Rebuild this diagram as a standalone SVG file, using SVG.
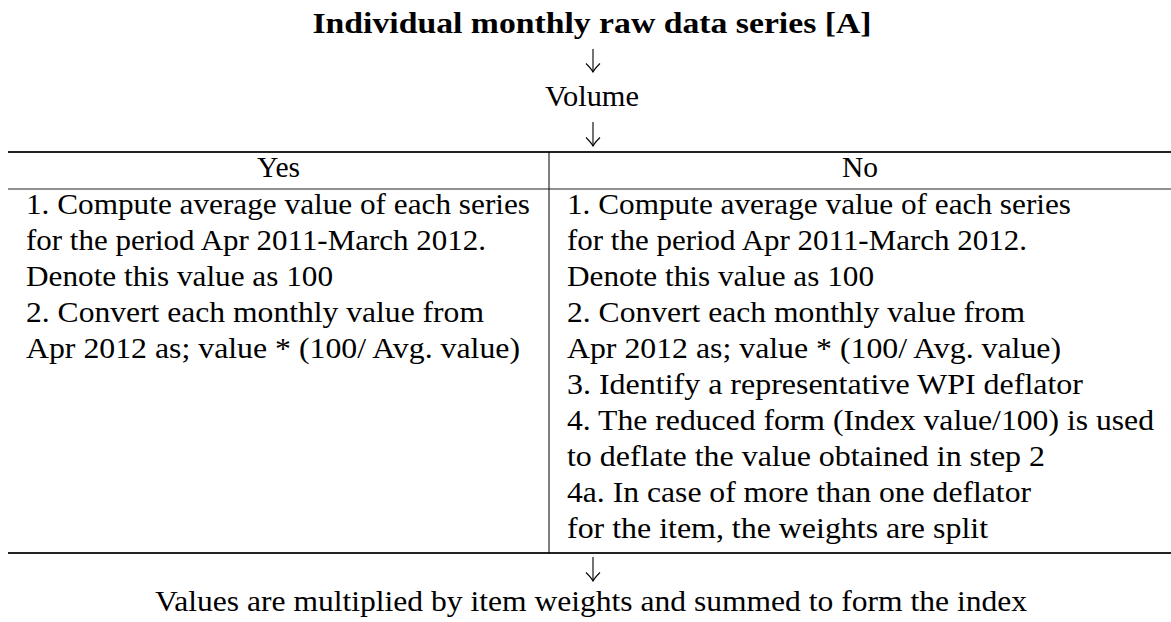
<svg xmlns="http://www.w3.org/2000/svg" width="1171" height="622" viewBox="0 0 1171 622">
<style>
  .c { text-anchor: middle; }
  .rule { stroke: #222; stroke-width: 1.8; fill: none; }
  .mid { stroke: #222; stroke-width: 1.2; fill: none; }
  .vline { stroke: #000; stroke-width: 1; fill: none; }
  .arrow { stroke: #000; stroke-width: 1.1; fill: none; marker-end: url(#head); }
</style>
<defs>
  <marker id="head" markerUnits="userSpaceOnUse" viewBox="-10 -9 12 18" refX="0" refY="0" markerWidth="12" markerHeight="18" orient="auto" overflow="visible">
    <path d="M -8.5 -7 Q -3 -1.5 0 0 Q -3 1.5 -8.5 7" stroke="#000" stroke-width="1.1" fill="none"/>
  </marker>
</defs>
<rect width="1171" height="622" fill="#fff"/>

<g id="table-rules">
  <line class="rule" x1="8" y1="152" x2="1171" y2="152"/>
  <line class="mid" x1="8" y1="189" x2="1171" y2="189"/>
  <line class="rule" x1="8" y1="553" x2="1171" y2="553"/>
  <line class="vline" x1="549" y1="152" x2="549" y2="553"/>
</g>

<g font-family="Liberation Serif" font-size="30" fill="#000">
<g id="title">
  <text class="c" x="592" y="33" font-weight="bold" font-size="29" textLength="559" lengthAdjust="spacingAndGlyphs">Individual monthly raw data series [A]</text>
</g>
<g id="volume">
  <text class="c" x="592" y="106" textLength="94" lengthAdjust="spacingAndGlyphs">Volume</text>
</g>

<g id="header-yes">
  <text class="c" x="278.5" y="177" textLength="43" lengthAdjust="spacingAndGlyphs">Yes</text>
</g>
<g id="header-no">
  <text class="c" x="860" y="177" textLength="36" lengthAdjust="spacingAndGlyphs">No</text>
</g>

<g id="cell-yes">
  <text x="26" y="214" textLength="504" lengthAdjust="spacingAndGlyphs">1. Compute average value of each series</text>
  <text x="26" y="250" textLength="460" lengthAdjust="spacingAndGlyphs">for the period Apr 2011-March 2012.</text>
  <text x="26" y="286" textLength="307" lengthAdjust="spacingAndGlyphs">Denote this value as 100</text>
  <text x="26" y="322" textLength="458" lengthAdjust="spacingAndGlyphs">2. Convert each monthly value from</text>
  <text x="26" y="358" textLength="494" lengthAdjust="spacingAndGlyphs">Apr 2012 as; value * (100/ Avg. value)</text>
</g>

<g id="cell-no">
  <text x="567" y="214" textLength="504" lengthAdjust="spacingAndGlyphs">1. Compute average value of each series</text>
  <text x="567" y="250" textLength="460" lengthAdjust="spacingAndGlyphs">for the period Apr 2011-March 2012.</text>
  <text x="567" y="286" textLength="307" lengthAdjust="spacingAndGlyphs">Denote this value as 100</text>
  <text x="567" y="322" textLength="458" lengthAdjust="spacingAndGlyphs">2. Convert each monthly value from</text>
  <text x="567" y="358" textLength="494" lengthAdjust="spacingAndGlyphs">Apr 2012 as; value * (100/ Avg. value)</text>
  <text x="567" y="394" textLength="516" lengthAdjust="spacingAndGlyphs">3. Identify a representative WPI deflator</text>
  <text x="567" y="430" textLength="587" lengthAdjust="spacingAndGlyphs">4. The reduced form (Index value/100) is used</text>
  <text x="567" y="466" textLength="478" lengthAdjust="spacingAndGlyphs">to deflate the value obtained in step 2</text>
  <text x="567" y="502" textLength="464" lengthAdjust="spacingAndGlyphs">4a. In case of more than one deflator</text>
  <text x="567" y="538" textLength="421" lengthAdjust="spacingAndGlyphs">for the item, the weights are split</text>
</g>

<g id="result">
  <text class="c" x="591" y="611" textLength="872" lengthAdjust="spacingAndGlyphs">Values are multiplied by item weights and summed to form the index</text>
</g>
</g>

<g id="connectors">
  <line class="arrow" x1="593" y1="49" x2="593" y2="72"/>
  <line class="arrow" x1="593" y1="122" x2="593" y2="146"/>
  <line class="arrow" x1="593" y1="557" x2="593" y2="581"/>
</g>
</svg>
